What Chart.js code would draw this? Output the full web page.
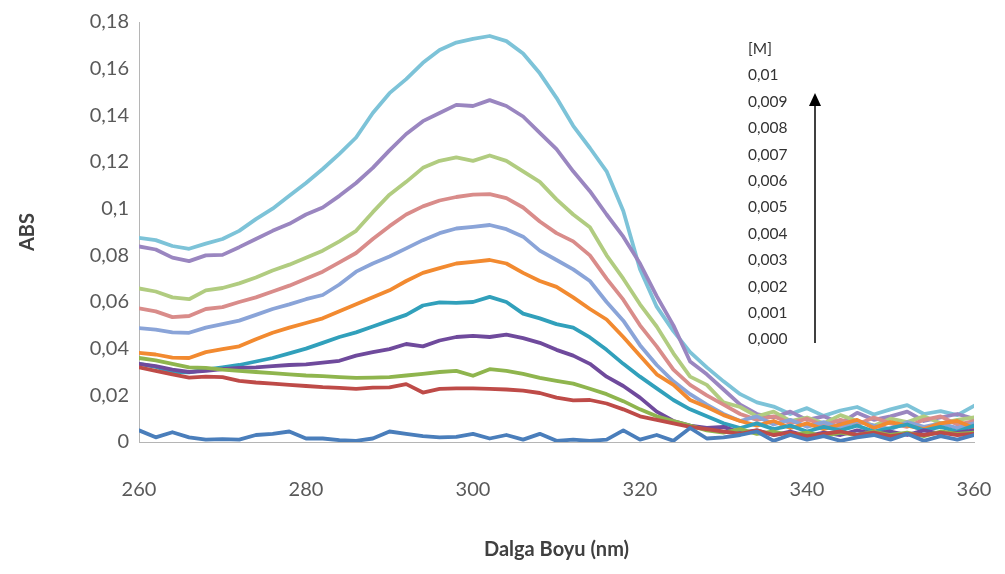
<!DOCTYPE html>
<html>
<head>
<meta charset="utf-8">
<script src="https://cdn.jsdelivr.net/npm/chart.js@4.4.1/dist/chart.umd.min.js"></script>
<style>
  body { margin: 0; background: #fff; }
  #wrap { position: relative; width: 1005px; height: 574px; }
  #legend { position: absolute; left: 748px; top: 35px; font-family: Lato, "Noto Sans", sans-serif; font-size: 15.5px; color: #333; line-height: 26.4px; }
</style>
</head>
<body>
<div id="wrap">
  <canvas id="absChart" width="1005" height="574"></canvas>
  <div id="legend"></div>
</div>
<script>
// wavelength (nm), 2 nm steps
const wavelength = [260,262,264,266,268,270,272,274,276,278,280,282,284,286,288,290,292,294,296,298,
  300,302,304,306,308,310,312,314,316,318,320,322,324,326,328,330,332,334,336,338,
  340,342,344,346,348,350,352,354,356,358,360];

const concLabels = ['0,000','0,001','0,002','0,003','0,004','0,005','0,006','0,007','0,008','0,009','0,01'];
const lineColors = ['#4a7ebb','#be4b48','#8fb54e','#6f4a9c','#31a0bb','#f28a30','#8aa4d8','#d98c8a','#b1cc80','#9a86c0','#7dc3d8'];

const abs000 = [.0050,.0020,.0042,.0020,.0010,.0012,.0010,.0030,.0035,.0045,.0015,.0015,.0008,.0005,.0015,.0045,.0035,.0025,.0020,.0022,
  .0035,.0015,.0030,.0010,.0035,.0005,.0010,.0005,.0010,.0050,.0010,.0030,.0005,.0060,.0015,.0020,.0030,.0045,.0005,.0030,
  .0010,.0025,.0005,.0020,.0030,.0010,.0035,.0005,.0025,.0010,.0030];
const abs001 = [.0320,.0305,.0290,.0276,.0280,.0278,.0262,.0255,.0250,.0245,.0240,.0235,.0232,.0228,.0233,.0234,.0248,.0212,.0228,.0230,
  .0230,.0228,.0225,.0220,.0210,.0190,.0178,.0180,.0165,.0140,.0110,.0095,.0080,.0065,.0055,.0045,.0035,.0050,.0030,.0040,
  .0025,.0035,.0045,.0030,.0040,.0025,.0035,.0030,.0040,.0030,.0035];
const abs002 = [.0360,.0350,.0335,.0320,.0318,.0310,.0305,.0300,.0295,.0290,.0285,.0282,.0278,.0275,.0276,.0278,.0285,.0292,.0300,.0305,
  .0284,.0312,.0305,.0292,.0275,.0262,.0250,.0228,.0205,.0175,.0140,.0110,.0090,.0070,.0050,.0040,.0055,.0035,.0045,.0030,
  .0040,.0025,.0040,.0030,.0045,.0030,.0040,.0025,.0045,.0035,.0040];
const abs003 = [.0335,.0325,.0310,.0300,.0305,.0312,.0318,.0320,.0325,.0330,.0333,.0340,.0348,.0370,.0385,.0398,.0420,.0410,.0435,.0450,
  .0455,.0450,.0460,.0445,.0425,.0395,.0370,.0335,.0280,.0240,.0190,.0130,.0090,.0070,.0060,.0065,.0040,.0050,.0030,.0045,
  .0025,.0040,.0030,.0050,.0035,.0045,.0030,.0050,.0035,.0040,.0050];
const abs004 = [.0335,.0322,.0300,.0298,.0310,.0320,.0330,.0345,.0360,.0380,.0400,.0425,.0450,.0470,.0495,.0520,.0545,.0585,.0598,.0596,
  .0600,.0622,.0600,.0550,.0530,.0505,.0490,.0448,.0395,.0335,.0280,.0230,.0180,.0140,.0110,.0080,.0060,.0080,.0055,.0070,
  .0045,.0065,.0050,.0070,.0045,.0060,.0075,.0050,.0065,.0045,.0070];
const abs005 = [.0382,.0375,.0362,.0360,.0385,.0398,.0410,.0440,.0468,.0490,.0510,.0530,.0560,.0590,.0620,.0650,.0690,.0725,.0745,.0765,
  .0772,.0780,.0765,.0725,.0690,.0665,.0620,.0570,.0525,.0450,.0370,.0290,.0245,.0180,.0150,.0115,.0090,.0070,.0090,.0060,
  .0080,.0055,.0075,.0095,.0060,.0085,.0070,.0055,.0080,.0090,.0060];
const abs006 = [.0488,.0482,.0470,.0468,.0490,.0505,.0520,.0545,.0570,.0590,.0612,.0630,.0675,.0730,.0765,.0795,.0830,.0865,.0895,.0915,
  .0922,.0930,.0912,.0880,.0820,.0780,.0740,.0690,.0600,.0520,.0415,.0330,.0260,.0205,.0160,.0120,.0090,.0110,.0075,.0095,
  .0065,.0085,.0060,.0090,.0070,.0055,.0085,.0065,.0080,.0060,.0080];
const abs007 = [.0573,.0560,.0535,.0540,.0570,.0578,.0600,.0620,.0645,.0670,.0700,.0730,.0770,.0810,.0870,.0925,.0975,.1010,.1035,.1050,
  .1060,.1062,.1045,.1005,.0945,.0895,.0860,.0800,.0700,.0610,.0500,.0410,.0310,.0245,.0200,.0160,.0120,.0095,.0110,.0080,
  .0100,.0070,.0095,.0075,.0105,.0080,.0065,.0095,.0110,.0075,.0090];
const abs008 = [.0658,.0645,.0620,.0612,.0650,.0660,.0680,.0705,.0735,.0760,.0790,.0820,.0860,.0905,.0985,.1060,.1115,.1175,.1205,.1220,
  .1205,.1228,.1205,.1160,.1115,.1040,.0975,.0920,.0800,.0700,.0590,.0495,.0380,.0280,.0245,.0170,.0150,.0110,.0130,.0090,
  .0105,.0080,.0115,.0090,.0070,.0100,.0085,.0110,.0080,.0095,.0105];
const abs009 = [.0838,.0825,.0790,.0775,.0800,.0802,.0835,.0870,.0905,.0935,.0975,.1005,.1055,.1110,.1175,.1250,.1320,.1375,.1410,.1445,
  .1440,.1465,.1440,.1395,.1325,.1255,.1160,.1075,.0975,.0880,.0765,.0625,.0500,.0345,.0290,.0225,.0160,.0120,.0105,.0130,
  .0095,.0110,.0080,.0125,.0095,.0110,.0130,.0090,.0105,.0120,.0100];
const abs010 = [.0875,.0865,.0840,.0828,.0850,.0870,.0905,.0955,.1000,.1055,.1110,.1170,.1235,.1305,.1410,.1495,.1555,.1625,.1680,.1712,
  .1728,.1740,.1718,.1665,.1580,.1475,.1355,.1260,.1160,.0990,.0740,.0580,.0475,.0385,.0320,.0260,.0205,.0170,.0152,.0120,
  .0145,.0112,.0135,.0150,.0118,.0140,.0158,.0120,.0132,.0115,.0155];

const seriesValues = [abs000, abs001, abs002, abs003, abs004, abs005, abs006, abs007, abs008, abs009, abs010];

const fontFam = 'Lato, "Noto Sans", sans-serif';
const commaFmt = v => String(Math.round(v * 100) / 100).replace('.', ',');

const datasets = seriesValues.map((vals, i) => ({
    label: concLabels[i],
    data: vals.map((y, k) => ({x: wavelength[k], y: y})),
    borderColor: lineColors[i],
    borderWidth: 3.8,
    borderJoinStyle: 'round',
    borderCapStyle: 'round',
    pointRadius: 0,
    tension: 0,
    fill: false,
}));

// arrow next to the legend column
const arrowPlugin = {
    id: 'arrow',
    afterDraw(chart){
        const c = chart.ctx;
        c.save();
        c.strokeStyle = '#000';
        c.fillStyle = '#000';
        c.lineWidth = 1.5;
        c.beginPath();
        c.moveTo(815, 343);
        c.lineTo(815, 104);
        c.stroke();
        c.beginPath();
        c.moveTo(815, 93);
        c.lineTo(809, 106);
        c.lineTo(821, 106);
        c.closePath();
        c.fill();
        c.restore();
    }
};

const absChart = new Chart(document.getElementById('absChart').getContext('2d'), {
    type: 'line',
    data: { datasets: datasets },
    plugins: [arrowPlugin],
    options: {
        responsive: false,
        animation: false,
        layout: { padding: { top: 18, right: 31, left: 10, bottom: 12 } },
        plugins: { legend: { display: false }, tooltip: { enabled: false } },
        scales: {
            x: {
                type: 'linear',
                min: 260,
                max: 360,
                grid: { display: false, drawTicks: false },
                border: { color: '#b5b5b5', width: 1 },
                ticks: { stepSize: 20, padding: 36, color: '#595959', font: { family: fontFam, size: 20 } },
                title: { display: true, text: 'Dalga Boyu (nm)', color: '#404040', padding: 0,
                         font: { family: fontFam, size: 20, weight: 'bold' } },
                afterFit(scale){
                    scale.height = 120;
                    // tick padding would otherwise widen the side margins
                    scale.paddingLeft = 0;
                    scale.paddingRight = 0;
                }
            },
            y: {
                min: 0,
                max: 0.18,
                grid: { display: false, drawTicks: false },
                border: { color: '#b5b5b5', width: 1 },
                ticks: { stepSize: 0.02, padding: 10, color: '#595959', font: { family: fontFam, size: 20 },
                         callback: v => commaFmt(v) },
                title: { display: true, text: 'ABS', color: '#404040', padding: { top: 6, bottom: 0 },
                         font: { family: fontFam, size: 20, weight: 'bold' } },
                afterFit(scale){ scale.width = 129; }
            }
        }
    }
});

// legend column: [M] header then concentrations, highest first
const legendBox = document.getElementById('legend');
['[M]'].concat(concLabels.slice().reverse()).forEach(t => {
    const d = document.createElement('div');
    d.textContent = t;
    legendBox.appendChild(d);
});
</script>
</body>
</html>
